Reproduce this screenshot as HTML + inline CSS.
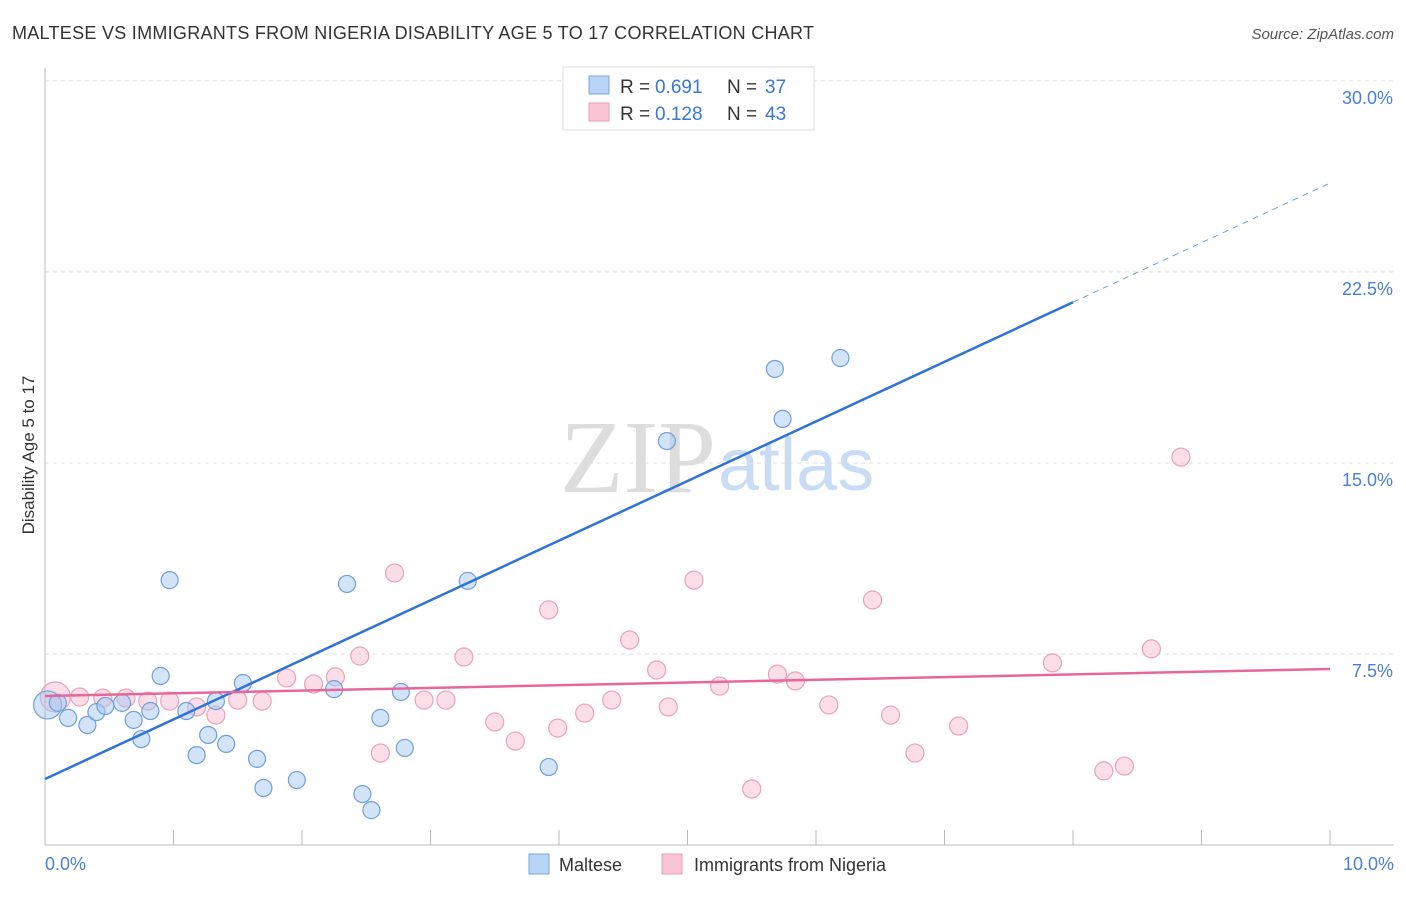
<!DOCTYPE html>
<html><head><meta charset="utf-8"><style>
body{margin:0;background:#fff;font-family:"Liberation Sans",sans-serif;}
</style></head><body>
<svg id="chart" width="1406" height="892" xmlns="http://www.w3.org/2000/svg" font-family="Liberation Sans, sans-serif">
<text x="12" y="39" font-size="18" fill="#333" textLength="802">MALTESE VS IMMIGRANTS FROM NIGERIA DISABILITY AGE 5 TO 17 CORRELATION CHART</text>
<text x="1394" y="39" font-size="15" fill="#555" font-style="italic" text-anchor="end">Source: ZipAtlas.com</text>
<text x="716" y="492" font-size="104" fill="#ddd" text-anchor="end" font-family="Liberation Serif, serif">ZIP</text>
<text x="718" y="490" font-size="74" fill="#c8dcf4">atlas</text>
<g id="grid"></g><g id="axes"></g><g id="pts"></g><g id="lines"></g>
<text x="34" y="455" font-size="17" fill="#333" text-anchor="middle" transform="rotate(-90 34 455)">Disability Age 5 to 17</text>
<text x="45" y="870" font-size="18" fill="#4a7fd4">0.0%</text>
<text x="1394" y="870" font-size="18" fill="#4a7fd4" text-anchor="end">10.0%</text>
<g>
<rect x="563" y="67" width="251" height="63" fill="#fff" stroke="#ddd"/>
<rect x="589" y="76" width="20" height="18" fill="#b8d4f6" stroke="#7aa6e0"/>
<rect x="589" y="103" width="20" height="18" fill="#f8c4d4" stroke="#e8a0b8"/>
<text x="620" y="93" font-size="19" fill="#333">R =</text><text x="655" y="93" font-size="19" fill="#3a78d8">0.691</text>
<text x="727" y="93" font-size="19" fill="#333">N =</text><text x="765" y="93" font-size="19" fill="#3a78d8">37</text>
<text x="620" y="120" font-size="19" fill="#333">R =</text><text x="655" y="120" font-size="19" fill="#3a78d8">0.128</text>
<text x="727" y="120" font-size="19" fill="#333">N =</text><text x="765" y="120" font-size="19" fill="#3a78d8">43</text>
</g>
<g>
<rect x="529" y="854" width="20" height="20" fill="#b8d4f6" stroke="#7aa6e0"/>
<text x="559" y="871" font-size="18" fill="#333">Maltese</text>
<rect x="662" y="854" width="20" height="20" fill="#f8c4d4" stroke="#e8a0b8"/>
<text x="694" y="871" font-size="18" fill="#333">Immigrants from Nigeria</text>
</g>
</svg>
<script>
const yTicks=[7.5,15,22.5,30];
const yTickLabels=["7.5%","15.0%","22.5%","30.0%"];
const blueX=[0.02,0.10,0.18,0.33,0.40,0.47,0.60,0.69,0.75,0.82,0.90,0.97,1.10,1.18,1.27,1.33,1.41,1.54,1.65,1.70,1.96,2.25,2.35,2.47,2.54,2.61,2.77,2.80,3.29,3.92,4.84,5.68,5.74,6.19];
const blueY=[5.50,5.58,4.99,4.71,5.22,5.46,5.58,4.91,4.16,5.26,6.64,10.40,5.26,3.53,4.32,5.65,3.97,6.36,3.38,2.24,2.55,6.12,10.25,2.00,1.37,4.99,6.01,3.81,10.37,3.06,15.86,18.69,16.73,19.12];
const pinkX=[0.08,0.27,0.45,0.63,0.80,0.97,1.18,1.33,1.50,1.69,1.88,2.09,2.26,2.45,2.61,2.72,2.95,3.12,3.26,3.50,3.66,3.92,3.99,4.20,4.41,4.55,4.76,4.85,5.05,5.25,5.50,5.70,5.84,6.10,6.44,6.58,6.77,7.11,7.84,8.24,8.40,8.61,8.84];
const pinkY=[5.81,5.81,5.77,5.77,5.65,5.65,5.42,5.10,5.69,5.65,6.56,6.32,6.60,7.42,3.61,10.68,5.69,5.69,7.38,4.83,4.08,9.23,4.59,5.18,5.69,8.05,6.87,5.42,10.40,6.24,2.20,6.71,6.44,5.50,9.62,5.10,3.61,4.67,7.15,2.91,3.10,7.70,15.23];
const blueLine=[2.59,2.34]; // intercept, slope
const pinkLine=[5.85,0.106];
const sx=v=>45+v*128.5, sy=v=>845-v*25.47;
const NS="http://www.w3.org/2000/svg";
function mk(p,t,a){const e=document.createElementNS(NS,t);for(const k in a)e.setAttribute(k,a[k]);document.getElementById(p).appendChild(e);return e;}
yTicks.forEach((t,i)=>{
 const g=mk('grid','line',{x1:45,x2:1394,y1:sy(t),y2:sy(t),stroke:'#ddd','stroke-dasharray':'4,4'});
 
 
 const l=mk('grid','text',{x:1393,y:sy(t)+23,'font-size':18,fill:'#4a7fd4','text-anchor':'end'});
 l.textContent=yTickLabels[i];
 
 
});
const ax=mk('axes','line',{x1:45,x2:45,y1:68,y2:845,stroke:'#bbb'});


const bx=mk('axes','line',{x1:45,x2:1394,y1:845,y2:845,stroke:'#bbb'});


for(let i=0;i<=10;i++){const t=mk('axes','line',{x1:sx(i),x2:sx(i),y1:830,y2:845,stroke:'#bbb'});
 
 }
pinkX.forEach((x,i)=>{const c=mk('pts','circle',{cx:sx(x),cy:sy(pinkY[i]),r:i==0?15:9,fill:'rgba(246,182,202,0.45)',stroke:'#eaa2ba','stroke-width':1.2});
 
 });
blueX.forEach((x,i)=>{const c=mk('pts','circle',{cx:sx(x),cy:sy(blueY[i]),r:i==0?14:8.5,fill:'rgba(168,200,242,0.5)',stroke:'#6f9fe0','stroke-width':1.2});
 
 });
const bl=mk('lines','line',{x1:sx(0),y1:sy(blueLine[0]),x2:sx(8),y2:sy(blueLine[0]+8*blueLine[1]),stroke:'#2f72d8','stroke-width':2.5});


const bd=mk('lines','line',{x1:sx(8),y1:sy(blueLine[0]+8*blueLine[1]),x2:sx(10),y2:sy(blueLine[0]+10*blueLine[1]),stroke:'#6f9fe0','stroke-width':1,'stroke-dasharray':'6,5'});


const pl=mk('lines','line',{x1:sx(0),y1:sy(pinkLine[0]),x2:sx(10),y2:sy(pinkLine[0]+10*pinkLine[1]),stroke:'#e8679a','stroke-width':2.5});


</script>
</body></html>
